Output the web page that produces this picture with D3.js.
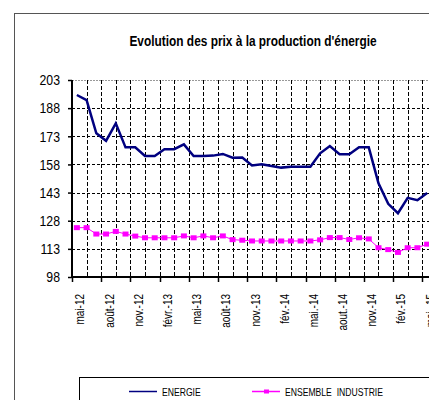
<!DOCTYPE html>
<html><head><meta charset="utf-8">
<script src="https://cdn.jsdelivr.net/npm/d3@7"></script>
<style>
html,body{margin:0;padding:0;background:#fff;}
svg{display:block;}
</style></head>
<body>
<svg id="c" width="429" height="400"></svg>
<script>
const title = "Evolution des prix à la production d'énergie";
const months = ["mai-12","juin-12","juil-12","août-12","sept-12","oct-12","nov.-12","déc.-12","janv.-13","févr.-13","mars-13","avr.-13",
  "mai-13","juin-13","juil-13","août-13","sept-13","oct-13","nov.-13","déc.-13","janv.-14","fév.-14","mars-14","avr.-14",
  "mai.-14","juin-14","juil.-14","aout.-14","sept.-14","oct.-14","nov.-14","déc.-14","janv.-15","fév.-15","mars-15","avr.-15",
  "mai.-15","juin-15","juil.-15"];
const tickLabels = ["mai-12","août-12","nov.-12","févr.-13","mai-13","août-13","nov.-13","fév.-14","mai.-14","aout.-14","nov.-14","fév.-15","mai.-15"];
const energie = [195.0,192.3,174.6,170.6,179.9,167.1,167.1,162.5,162.5,166.1,166.1,168.7,
  162.5,162.5,162.7,163.6,161.6,161.7,157.5,158.1,157.2,156.3,156.8,156.8,
  156.8,163.9,167.8,163.4,163.4,167.1,167.1,147.9,137.0,132.0,140.2,138.9,142.8];
const industrie = [124.3,124.3,120.9,120.9,122.3,120.9,119.8,118.9,118.9,118.9,118.9,119.9,
  118.9,119.9,118.9,119.9,117.9,117.6,117.2,117.2,117.2,117.2,117.2,117.2,
  117.2,117.8,119.0,119.0,118.0,118.9,118.3,113.6,112.6,111.1,113.6,113.6,115.5];
const yTicks = [98,113,128,143,158,173,188,203];
const seriesNames = ["ENERGIE","ENSEMBLE  INDUSTRIE"];

const svg = d3.select("#c");
const font = "'Liberation Sans',Arial,sans-serif";
const NS = 0.82; // narrow (condensed) horizontal scale
const pLeft = 72, pTop = 80, pBottom = 277, step = 9.73;
const x = d3.scaleLinear().domain([0, months.length]).range([pLeft, pLeft + step*months.length]);
const y = d3.scaleLinear().domain([98,203]).range([pBottom, pTop]);
const xc = i => x(i + 0.5);

function ntext(g, tx, ty, str, size, anchor, extra, sc) {
  return g.append("text")
    .attr("transform", `translate(${tx},${ty})${extra||""} scale(${sc||NS},1)`)
    .attr("text-anchor", anchor).attr("font-family", font).attr("font-size", size)
    .attr("fill","#000").text(str);
}

// outer frame
svg.append("rect").attr("x",14.5).attr("y",13.5).attr("width",430).attr("height",400)
  .attr("fill","none").attr("stroke","#555").attr("stroke-width",1);

// title
ntext(svg, 253, 46, title, 14.5, "middle").attr("font-weight","bold");

// horizontal gridlines
svg.append("g").selectAll("line").data(yTicks.filter(v=>v>98)).join("line")
  .attr("x1",pLeft).attr("x2",x(months.length))
  .attr("y1",d=>Math.round(y(d))+0.5).attr("y2",d=>Math.round(y(d))+0.5)
  .attr("stroke",d=>d===203?"#999":"#000").attr("stroke-width",1)
  .attr("stroke-dasharray",d=>d===203?"2,1":"3,2");

// vertical gridlines every 1.5 months
const vg = d3.range(1, Math.floor(months.length/1.5)+1).map(k=>k*1.5);
svg.append("g").selectAll("line").data(vg).join("line")
  .attr("x1",d=>Math.round(x(d))+0.5).attr("x2",d=>Math.round(x(d))+0.5)
  .attr("y1",pTop).attr("y2",pBottom)
  .attr("stroke","#000").attr("stroke-width",1).attr("stroke-dasharray","4,2");

// y axis
const yAxis = d3.axisLeft(y).tickValues(yTicks).tickSize(4).tickFormat("");
const ga = svg.append("g").attr("transform",`translate(${pLeft},0)`).call(yAxis);
ga.select(".domain").remove();
ga.selectAll(".tick line").attr("stroke","#000").attr("stroke-width",1.5);
const gyl = svg.append("g");
yTicks.forEach(v => ntext(gyl, 60, y(v)+5.3, d3.format("d")(v), 15, "end"));
svg.append("line").attr("x1",pLeft).attr("x2",pLeft).attr("y1",pTop).attr("y2",pBottom+1)
  .attr("stroke","#000").attr("stroke-width",2);

// x axis
const xt = d3.range(0, months.length+1, 3);
svg.append("line").attr("x1",pLeft).attr("x2",x(months.length)).attr("y1",pBottom).attr("y2",pBottom)
  .attr("stroke","#000").attr("stroke-width",2);
svg.append("g").selectAll("line").data(xt).join("line")
  .attr("x1",d=>Math.round(x(d))+0.5).attr("x2",d=>Math.round(x(d))+0.5)
  .attr("y1",pBottom).attr("y2",pBottom+5).attr("stroke","#000").attr("stroke-width",1.5);
const gxl = svg.append("g");
tickLabels.forEach((d,i) => ntext(gxl, xc(i*3)+7.5, 294, d, 13.5, "end", " rotate(-90)", 0.74));

// lines
const line = d3.line().x((d,i)=>xc(i)).y(d=>y(d));
svg.append("path").datum(industrie).attr("d",line).attr("fill","none")
  .attr("stroke","#ff00ff").attr("stroke-width",1);
svg.append("g").selectAll("rect").data(industrie).join("rect")
  .attr("x",(d,i)=>xc(i)-3).attr("y",d=>y(d)-2.5).attr("width",6).attr("height",5)
  .attr("fill","#ff00ff");
svg.append("path").datum(energie).attr("d",line).attr("fill","none")
  .attr("stroke","#000080").attr("stroke-width",2.5).attr("stroke-linejoin","miter");

// legend
svg.append("rect").attr("x",79.5).attr("y",377.5).attr("width",400).attr("height",60)
  .attr("fill","none").attr("stroke","#000").attr("stroke-width",1);
svg.append("line").attr("x1",129).attr("x2",157).attr("y1",391.5).attr("y2",391.5)
  .attr("stroke","#000080").attr("stroke-width",1.5);
ntext(svg, 162, 395.5, seriesNames[0], 10.5, "start");
svg.append("line").attr("x1",252).attr("x2",280).attr("y1",391.5).attr("y2",391.5)
  .attr("stroke","#ff00ff").attr("stroke-width",1.5);
svg.append("rect").attr("x",264).attr("y",389.5).attr("width",5).attr("height",4).attr("fill","#ff00ff");
ntext(svg, 285, 395.5, seriesNames[1], 10.5, "start").attr("xml:space","preserve").style("white-space","pre");
</script>
</body></html>
